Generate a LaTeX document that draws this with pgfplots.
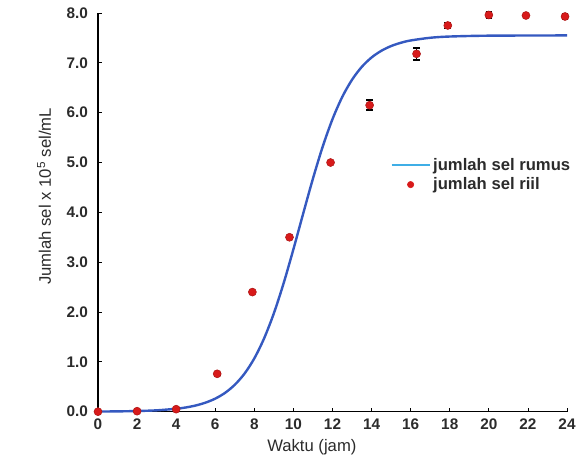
\documentclass[border=0pt]{standalone}
\usepackage{fontspec}
\setmainfont{Liberation Sans}
\usepackage{pgfplots}
\pgfplotsset{compat=1.18}
\definecolor{curveblue}{HTML}{3559C0}
\definecolor{legblue}{HTML}{3FAEE6}
\definecolor{dotred}{HTML}{D81A1A}
\definecolor{txt}{HTML}{2B2B2B}

\begin{document}
\begin{tikzpicture}
  \useasboundingbox (-73.5pt,-40.5pt) rectangle (364.5pt,308.75pt);
  \begin{axis}[
    at={(0,0)}, anchor=south west,
    width=351.75pt, height=299pt, scale only axis,
    xmin=0, xmax=24, ymin=0, ymax=8,
    axis lines=left, axis line style={-, black, line width=0.9pt},
    xtick={0,2,...,24}, ytick={0,1,...,8},
    tick align=inside, major tick length=3pt,
    tick style={black, line width=0.6pt},
    ticklabel style={font=\fontsize{11.5}{13}\selectfont\bfseries, text=txt},
    /pgf/number format/assume math mode=true,
    yticklabel style={xshift=-4pt, /pgf/number format/.cd, fixed, fixed zerofill, precision=1},
    xticklabel style={yshift=-2pt},
    xlabel={Waktu (jam)},
    ylabel={Jumlah sel x 10\textsuperscript{5} sel/mL},
    every axis x label/.style={at={(axis description cs:0.456,-0.09)}, anchor=center,
      font=\fontsize{12.5}{14}\selectfont, text=txt},
    every axis y label/.style={at={(axis description cs:-0.115,0.54)}, rotate=90, anchor=center,
      font=\fontsize{12.5}{14}\selectfont, text=txt},
    legend style={at={(0.615,0.65)}, anchor=north west, draw=none, fill=none,
      font=\fontsize{12.5}{14}\selectfont\bfseries, text=txt, row sep=0pt},
    legend cell align=left,
    clip=false,
  ]
  % model curve
  \addplot[curveblue, line width=1.8pt, smooth,
    legend image code/.code={\draw[legblue, line width=1.4pt] (-0.05cm,0cm) -- (0.95cm,0cm);}]
    coordinates {
    (0,0.003) (1,0.006) (2,0.013) (3,0.027) (4,0.059) (4.5,0.085) (5,0.124)
    (5.5,0.181) (6,0.262) (6.5,0.377) (7,0.540) (7.5,0.765) (8,1.070)
    (8.5,1.471) (9,1.975) (9.5,2.579) (10,3.260) (10.5,3.976) (11,4.678)
    (11.5,5.321) (12,5.871) (12.5,6.317) (13,6.661) (13.5,6.920) (14,7.108)
    (14.5,7.242) (15,7.337) (15.5,7.403) (16,7.449) (17,7.503) (18,7.528)
    (20,7.545) (24,7.55)
  };
  \addlegendentry{jumlah sel rumus}
  % measured
  \addplot[only marks, mark=*, mark size=3pt,
    mark options={draw=dotred!80!black, fill=dotred},
    legend image code/.code={\fill[dotred] (0.45cm,0cm) circle (2.4pt);},
    error bars/.cd, y dir=both, y explicit,
    error bar style={black, line width=1.2pt},
    error mark options={black, line width=1.2pt, mark size=2.5pt, rotate=90}]
    coordinates {
    (0,0) +- (0,0)
    (2,0.01) +- (0,0)
    (4,0.05) +- (0,0)
    (6.1,0.76) +- (0,0.03)
    (7.9,2.4) +- (0,0)
    (9.8,3.5) +- (0,0)
    (11.9,5.0) +- (0,0)
    (13.9,6.15) +- (0,0.1)
    (16.3,7.18) +- (0,0.12)
    (17.9,7.75) +- (0,0.06)
    (20,7.96) +- (0,0.07)
    (21.9,7.95) +- (0,0)
    (23.9,7.93) +- (0,0.06)
  };
  \addlegendentry{jumlah sel riil}
  \end{axis}
\end{tikzpicture}
\end{document}
